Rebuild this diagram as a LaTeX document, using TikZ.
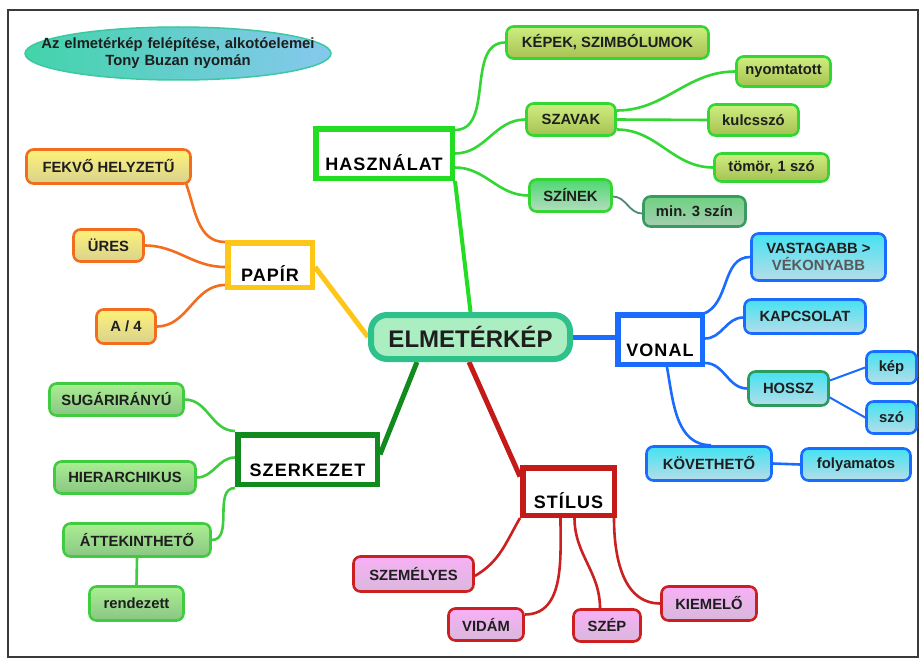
\documentclass[tikz,border=0pt]{standalone}
\usepackage{fontspec}
\setmainfont{Liberation Sans}
\usetikzlibrary{calc,shapes.geometric}
\pgfdeclarelayer{bg}
\pgfsetlayers{bg,main}
\definecolor{txt}{HTML}{1E1E1E}
\definecolor{frm}{HTML}{3A3A3A}
\definecolor{hasB}{HTML}{22DD22}
\definecolor{hasL}{HTML}{33D633}
\definecolor{hasT}{HTML}{CFEE80}
\definecolor{hasBt}{HTML}{A6C152}
\definecolor{colT}{HTML}{4CD870}
\definecolor{colBt}{HTML}{B6DCC0}
\definecolor{minT}{HTML}{6ED282}
\definecolor{minBt}{HTML}{A6CDB0}
\definecolor{minB}{HTML}{3A9A62}
\definecolor{minL}{HTML}{4E8878}
\definecolor{papB}{HTML}{FFC61A}
\definecolor{papL}{HTML}{F26D1E}
\definecolor{papT}{HTML}{FFF27A}
\definecolor{papBt}{HTML}{D8D28C}
\definecolor{szkB}{HTML}{118A1E}
\definecolor{szkL}{HTML}{40CC40}
\definecolor{szkT}{HTML}{ABEE92}
\definecolor{szkBt}{HTML}{8AC684}
\definecolor{vonB}{HTML}{1A6CFF}
\definecolor{vonT}{HTML}{44E2F2}
\definecolor{vonBt}{HTML}{B6DDE8}
\definecolor{hosB}{HTML}{2C9C5E}
\definecolor{stiB}{HTML}{C41A18}
\definecolor{stiL}{HTML}{CC1F1F}
\definecolor{stiT}{HTML}{F8B0F6}
\definecolor{stiBt}{HTML}{D8B8DC}
\definecolor{cenF}{HTML}{ABEEC2}
\definecolor{cenB}{HTML}{2FC18C}
\definecolor{titL}{HTML}{42D4AA}
\definecolor{titR}{HTML}{86C8EE}
\definecolor{titB}{HTML}{3CC8A0}
\begin{document}
\begin{tikzpicture}[x=1pt,y=-1pt,
  leaf/.style={rounded corners=7pt, line width=2.6pt, inner sep=0pt, align=center,
    font=\bfseries\fontsize{14.8}{17}\selectfont, text=txt},
  hleaf/.style={leaf, draw=hasL, top color=hasT, bottom color=hasBt},
  pleaf/.style={leaf, draw=papL, top color=papT, bottom color=papBt},
  sleaf/.style={leaf, draw=szkL, top color=szkT, bottom color=szkBt},
  vleaf/.style={leaf, draw=vonB, top color=vonT, bottom color=vonBt},
  tleaf/.style={leaf, draw=stiL, top color=stiT, bottom color=stiBt},
  catbox/.style={draw, fill=white, line width=5.5pt, inner sep=0pt, text=black,
    font=\bfseries\fontsize{18}{20}\selectfont\addfontfeature{LetterSpace=6},
    text height=33pt, text depth=0pt},
  wh/.style 2 args={minimum width=#1, minimum height=#2},
  trunk/.style={line width=5pt},
  twig/.style={line width=2.6pt}
]
\useasboundingbox (0,0) rectangle (921,661);
\begin{pgfonlayer}{bg}
\fill[white] (0,0) rectangle (921,661);
\draw[frm, line width=2pt] (8,10) rectangle (918,657);
\end{pgfonlayer}

% title
\node[ellipse, draw=titB, line width=1.5pt, left color=titL, right color=titR,
  minimum width=306, minimum height=53, inner sep=0pt, text width=200pt, align=center, text=txt,
  font=\bfseries\fontsize{14.8}{17}\selectfont] (title) at (178,53.5)
  {\makebox[200pt][c]{Az elmetérkép felépítése, alkotóelemei}\\\makebox[200pt][c]{Tony Buzan nyomán}};

% category boxes
\node[catbox, draw=hasB, wh={136.5}{49.5}] (has) at (384,153.5) {HASZNÁLAT};
\node[catbox, draw=papB, wh={84.5}{44.5}] (pap) at (270,265) {PAPÍR};
\node[catbox, draw=vonB, wh={84.5}{49.5}] (von) at (660,339.5) {VONAL};
\node[catbox, draw=szkB, wh={139.5}{49.5}] (szk) at (307.5,459.5) {SZERKEZET};
\node[catbox, draw=stiB, wh={91.5}{47.5}] (sti) at (568.5,491.5) {STÍLUS};

% centre
\node[draw=cenB, fill=cenF, line width=6pt, rounded corners=16pt, wh={199}{44},
  inner sep=0pt, text=txt, font=\bfseries\fontsize{24}{27}\selectfont] (cen) at (470.5,337) {ELMETÉRKÉP};

% HASZNALAT leaves
\node[hleaf, wh={202}{32}] (kep1) at (607.5,42.5) {KÉPEK, SZIMBÓLUMOK};
\node[hleaf, wh={89}{32}] (szav) at (571,119.5) {SZAVAK};
\node[hleaf, wh={94}{30}] (nyom) at (783.5,71.5) {nyomtatott};
\node[hleaf, wh={90}{31}] (kulc) at (753.5,120) {kulcsszó};
\node[hleaf, wh={114}{28}] (tomo) at (771.5,167.5) {tömör, 1 szó};
\node[leaf, draw=hasL, top color=colT, bottom color=colBt, wh={82}{32}] (szin) at (570.5,195.5) {SZÍNEK};
\node[leaf, draw=minB, top color=minT, bottom color=minBt, wh={102}{30}] (min3) at (694.5,211.5) {min. 3 szín};

% PAPIR leaves
\node[pleaf, wh={164}{34}] (fekv) at (108.5,166.5) {FEKVŐ HELYZETŰ};
\node[pleaf, wh={70}{32}] (ures) at (108.5,245.5) {ÜRES};
\node[pleaf, wh={59}{34}] (afour) at (126,326.5) {A / 4};

% SZERKEZET leaves
\node[sleaf, wh={134}{32}] (suga) at (116.5,399.5) {SUGÁRIRÁNYÚ};
\node[sleaf, wh={141}{32}] (hier) at (125,477.5) {HIERARCHIKUS};
\node[sleaf, wh={147}{33}] (atte) at (137,540) {ÁTTEKINTHETŐ};
\node[sleaf, wh={94}{34}] (rend) at (136.5,603.5) {rendezett};

% VONAL leaves
\node[vleaf, wh={134}{47}] (vast) at (818.5,257) {VASTAGABB >\\\textcolor{black!65}{VÉKONYABB}};
\node[vleaf, wh={121}{34}] (kapc) at (805,316.5) {KAPCSOLAT};
\node[vleaf, draw=hosB, wh={80}{34}] (hoss) at (788.5,388.5) {HOSSZ};
\node[vleaf, wh={50}{32}] (kepv) at (891.5,367.5) {kép};
\node[vleaf, wh={50}{32}] (szov) at (891.5,417.5) {szó};
\node[vleaf, wh={125}{34}] (kove) at (709,463.5) {KÖVETHETŐ};
\node[vleaf, wh={109}{32}] (foly) at (856,464.5) {folyamatos};

% STILUS leaves
\node[tleaf, wh={120}{35}] (szem) at (413.5,574) {SZEMÉLYES};
\node[tleaf, wh={75}{32}] (vida) at (486,624.5) {VIDÁM};
\node[tleaf, wh={67}{32}] (szep) at (607,625.5) {SZÉP};
\node[tleaf, wh={95}{34}] (kiem) at (709,603.5) {KIEMELŐ};

\begin{pgfonlayer}{bg}
% trunks
\draw[hasB, line width=4pt] (cen.north) -- (has.south east);
\draw[papB, trunk] (cen.west) -- ($(pap.east)+(0,2)$);
\draw[szkB, trunk] ($(cen.south west)+(49,0)$) -- ($(szk.east)+(0,-5)$);
\draw[stiB, trunk] ($(cen.south west)+(101,0)$) -- ($(sti.west)+(0,-15)$);
\draw[vonB, trunk] (cen.east) -- (cen.east -| von.west);

% HASZNALAT twigs
\draw[hasL, twig] ($(has.north east)+(0,4)$) to[out=0,in=180] (kep1.west);
\draw[hasL, twig] (has.east) to[out=0,in=180] (szav.west);
\draw[hasL, twig] ($(has.east)+(0,14)$) to[out=0,in=180] (szin.west);
\draw[hasL, twig] ($(szav.east)+(0,-9)$) to[out=0,in=180] (nyom.west);
\draw[hasL, twig] (szav.east) -- (kulc.west);
\draw[hasL, twig] ($(szav.east)+(0,10)$) to[out=0,in=180] (tomo.west);
\draw[minL, line width=1.8pt] ($(szin.east)+(0,1)$) to[out=0,in=180] ($(min3.west)+(0,2)$);

% PAPIR twigs
\draw[papL, twig] ($(fekv.south east)+(-6,-2)$) to[out=-70,in=180] ($(pap.north west)+(0,2)$);
\draw[papL, twig] (ures.east) to[out=0,in=180] ($(pap.west)+(0,2)$);
\draw[papL, twig] (afour.east) to[out=0,in=180] ($(pap.west)+(0,20)$);

% SZERKEZET twigs
\draw[szkL, twig] (suga.east) to[out=0,in=180] ($(szk.north west)+(0,-1)$);
\draw[szkL, twig] (hier.east) to[out=0,in=180] ($(szk.west)+(0,-2)$);
\draw[szkL, twig] (atte.east) to[out=0,in=180] ($(szk.south west)+(0,1)$);
\draw[szkL, twig] (atte.south) -- (rend.north);

% VONAL twigs
\draw[vonB, twig] ($(von.north east)+(-2,2)$) to[out=20,in=180] (vast.west);
\draw[vonB, twig] ($(von.east)+(0,-1)$) to[out=0,in=180] ($(kapc.west)+(0,1)$);
\draw[vonB, twig] ($(von.south east)+(0,-4)$) to[out=0,in=180] (hoss.west);
\draw[vonB, line width=2pt] ($(hoss.east)+(0,-8)$) -- (kepv.west);
\draw[vonB, line width=2pt] ($(hoss.east)+(0,9)$) -- (szov.west);
\draw[vonB, twig] ($(von.south)+(7,0)$) to[out=-80,in=180] ($(kove.north)+(2,0)$);
\draw[vonB, twig] (kove.east) -- (foly.west);

% STILUS twigs
\draw[stiL, twig] ($(szem.east)+(0,2)$) to[out=30,in=-120] (sti.south west);
\draw[stiL, twig] ($(vida.east)+(0,-10)$) to[out=0,in=-90] ($(sti.south)+(-8,0)$);
\draw[stiL, twig] ($(szep.north)+(-7,0)$) to[out=90,in=-90] ($(sti.south)+(6,0)$);
\draw[stiL, twig] (kiem.west) to[out=180,in=-90] ($(sti.south east)+(-3,0)$);
\end{pgfonlayer}
\end{tikzpicture}
\end{document}
